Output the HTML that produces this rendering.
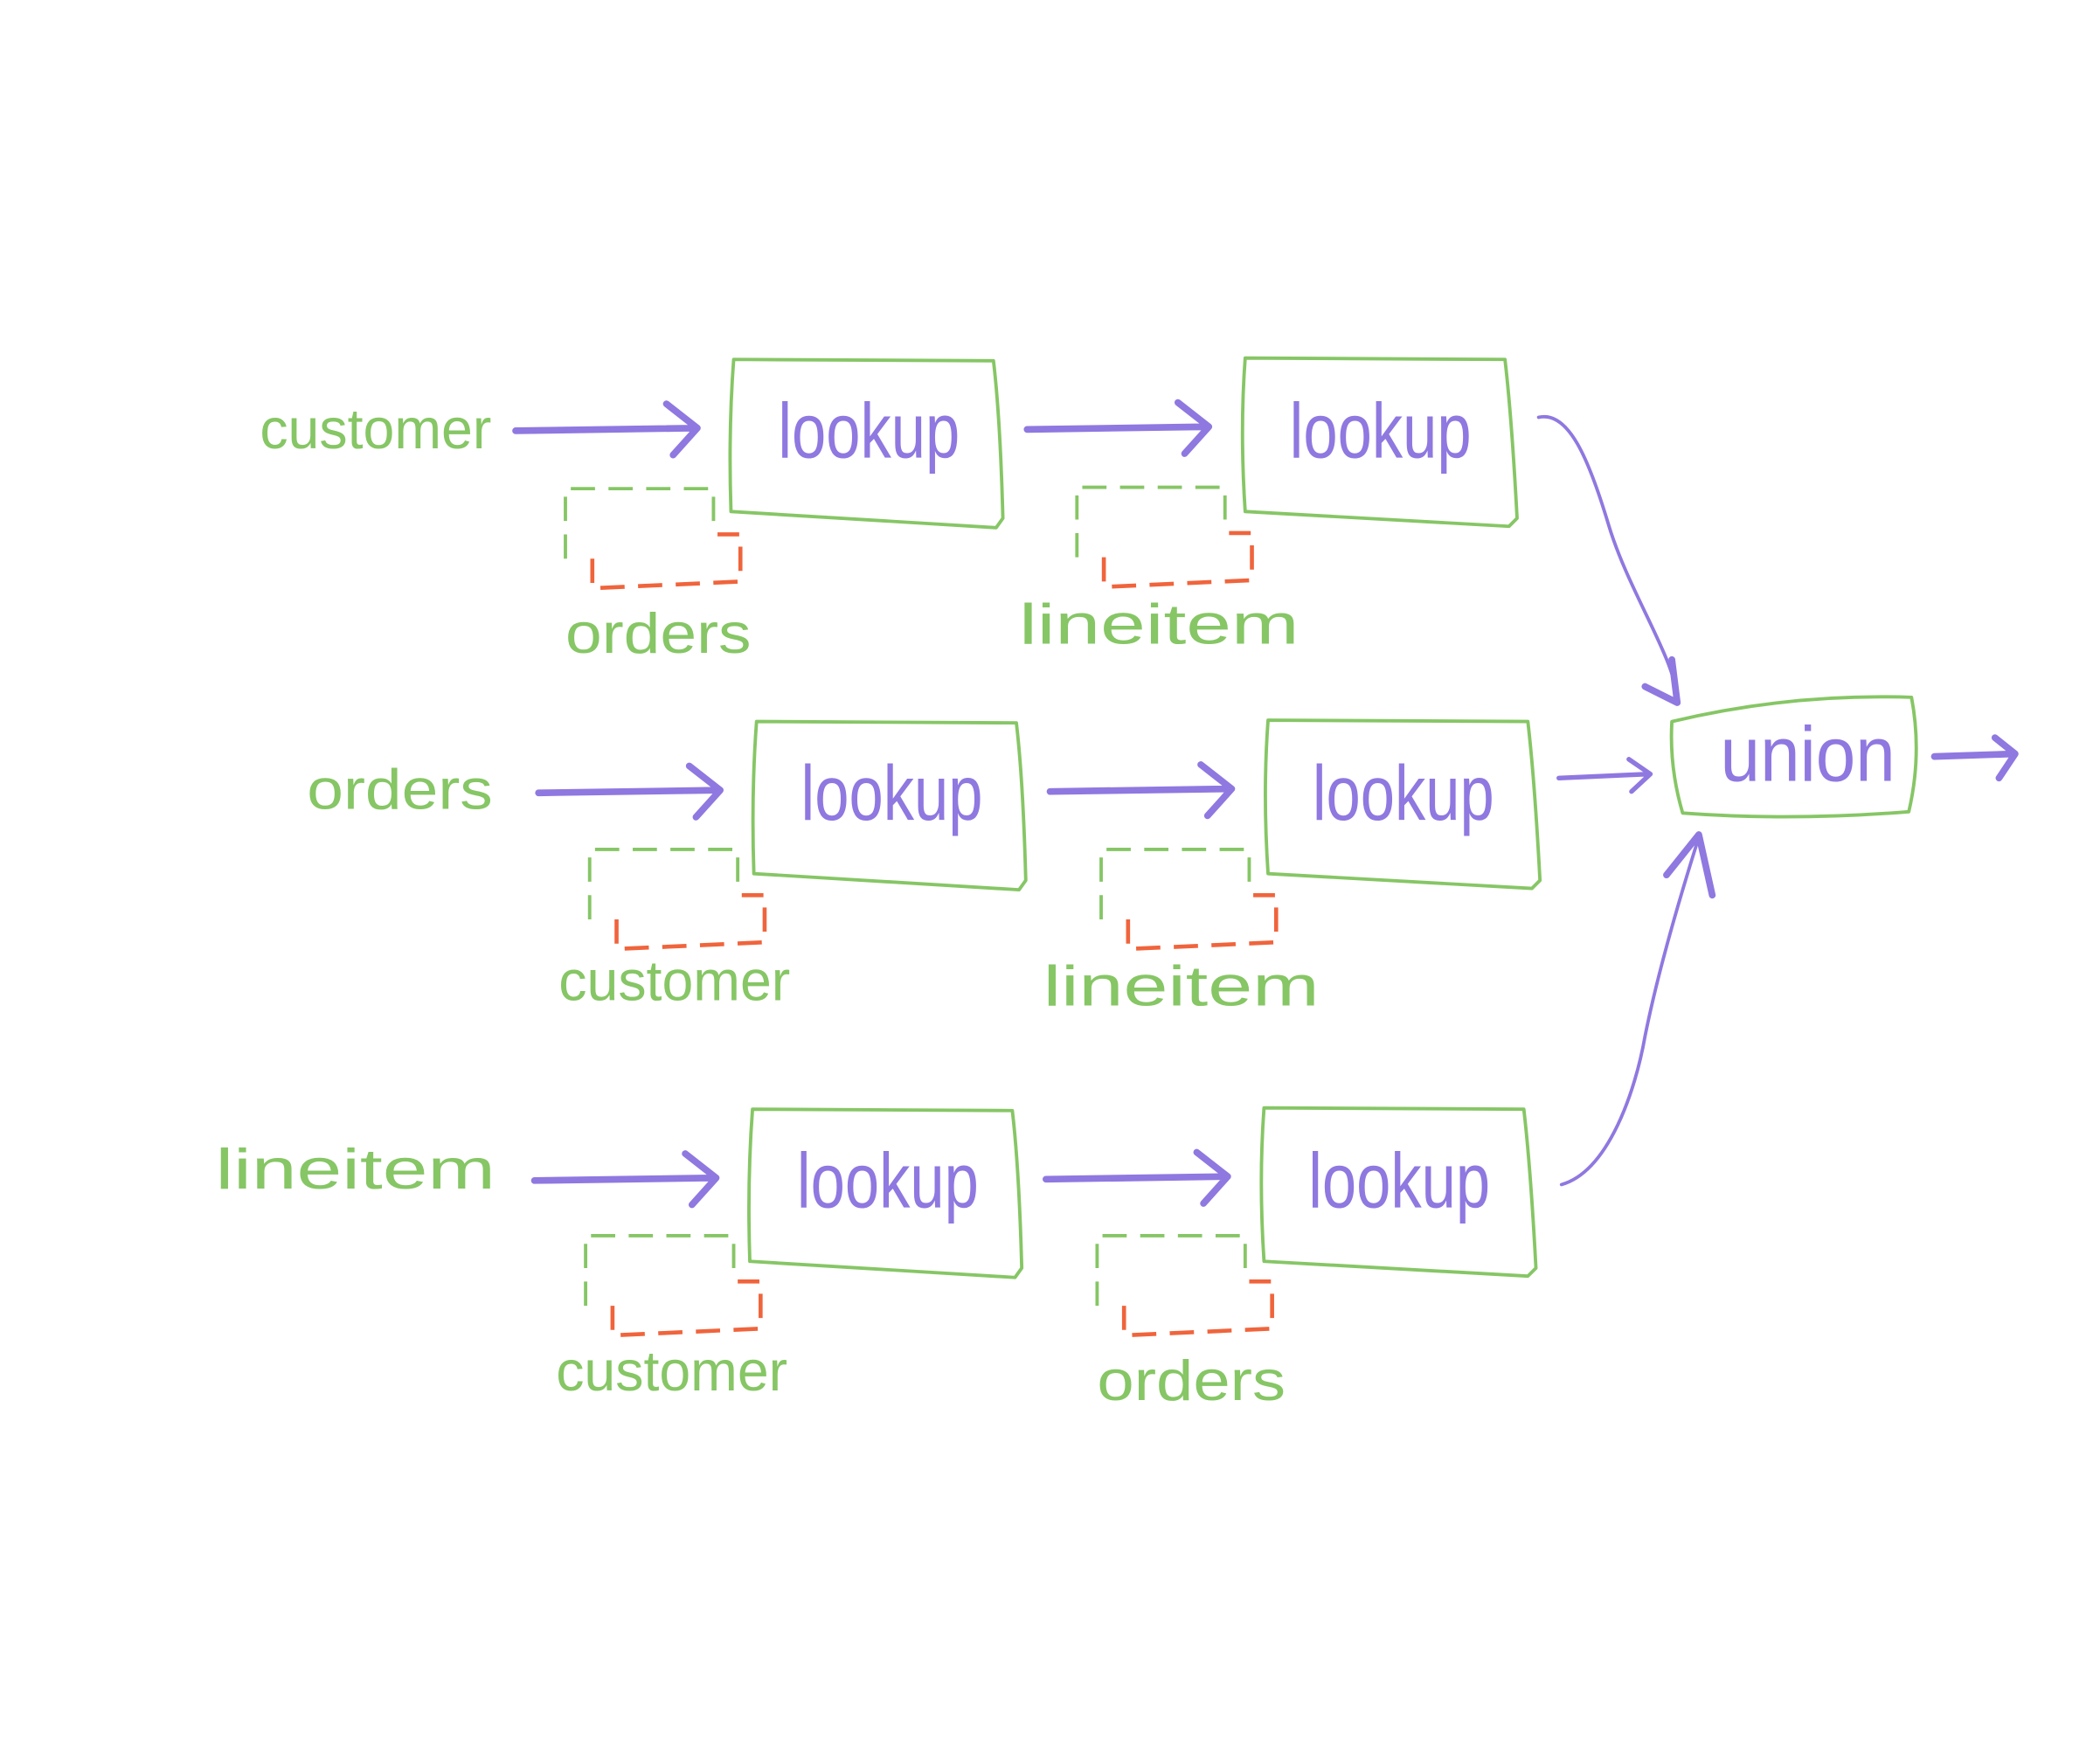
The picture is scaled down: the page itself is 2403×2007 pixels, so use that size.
<!DOCTYPE html>
<html><head><meta charset="utf-8"><style>
html,body{margin:0;padding:0;background:#fff;}
svg{display:block;}
text{font-family:"Liberation Sans",sans-serif;}
.g{fill:#86c665;font-size:42px;}
.p{fill:#8f78e0;font-size:58px;}
.box{fill:none;stroke:#86c665;stroke-width:2.5;stroke-linejoin:round;}
.arr{fill:none;stroke:#8f78e0;stroke-width:5;stroke-linecap:round;stroke-linejoin:round;}
.thin{fill:none;stroke:#8f78e0;stroke-width:2.5;stroke-linecap:round;stroke-linejoin:round;}
.mid{fill:none;stroke:#8f78e0;stroke-width:3.5;stroke-linecap:round;stroke-linejoin:round;}
.dg{fill:none;stroke:#86c665;stroke-width:2.5;stroke-dasharray:18 10;}
.dr{fill:none;stroke:#f0643c;stroke-width:3;stroke-dasharray:18 10;}
</style></head><body>
<svg width="2403" height="2007" viewBox="0 0 1560 1303" xmlns="http://www.w3.org/2000/svg">
<defs>
<g id="row">
  <path class="arr" d="M0,0 L135,-2 M112,-20 L135,-2 L117,18"/>
  <path class="box" d="M162,-53 L355,-52 Q360,-10 362,65 L357,72 L160,60 Q158,0 162,-53 Z"/>
  <text class="p" x="195" y="20" textLength="135" lengthAdjust="spacingAndGlyphs">lookup</text>
  <path class="arr" d="M380,-1 L515,-3 M492,-21 L515,-3 L497,17"/>
  <path class="box" d="M542,-54 L735,-53 Q740,-10 744,65 L738,71 L542,60 Q538,0 542,-54 Z"/>
  <text class="p" x="575" y="20" textLength="135" lengthAdjust="spacingAndGlyphs">lookup</text>
</g>
<g id="dash">
  <path class="dg" d="M0,52 L0,0 L110,0 L110,34"/>
  <path class="dr" d="M20,52 L20,74 L130,69 L130,34 L113,34"/>
</g>
</defs>

<g transform="translate(383,320)"><use href="#row"/></g>
<text class="g" x="193" y="333" textLength="172" lengthAdjust="spacingAndGlyphs">customer</text>
<g transform="translate(420,363)"><use href="#dash"/></g>
<g transform="translate(800,362)"><use href="#dash"/></g>
<text class="g" x="420" y="485" textLength="138" lengthAdjust="spacingAndGlyphs">orders</text>
<text class="g" x="757" y="478" textLength="208" lengthAdjust="spacingAndGlyphs">lineitem</text>

<g transform="translate(400,589)"><use href="#row"/></g>
<text class="g" x="228" y="601" textLength="138" lengthAdjust="spacingAndGlyphs">orders</text>
<g transform="translate(438,631)"><use href="#dash"/></g>
<g transform="translate(818,631)"><use href="#dash"/></g>
<text class="g" x="415" y="743" textLength="172" lengthAdjust="spacingAndGlyphs">customer</text>
<text class="g" x="775" y="747" textLength="205" lengthAdjust="spacingAndGlyphs">lineitem</text>

<g transform="translate(397,877)"><use href="#row"/></g>
<text class="g" x="160" y="883" textLength="208" lengthAdjust="spacingAndGlyphs">lineitem</text>
<g transform="translate(435,918)"><use href="#dash"/></g>
<g transform="translate(815,918)"><use href="#dash"/></g>
<text class="g" x="413" y="1033" textLength="172" lengthAdjust="spacingAndGlyphs">customer</text>
<text class="g" x="815" y="1040" textLength="140" lengthAdjust="spacingAndGlyphs">orders</text>

<path class="box" d="M1242,536 Q1330,515 1420,518 Q1428,560 1418,603 Q1330,610 1250,604 Q1240,570 1242,536 Z"/>
<text class="p" x="1278" y="580" textLength="130" lengthAdjust="spacingAndGlyphs">union</text>
<path class="arr" d="M1437,562 L1497,560 M1482,548 L1497,560 L1485,578"/>

<path class="thin" d="M1143,310 C1165,305 1180,340 1195,390 C1210,440 1245,490 1246,520"/>
<path class="arr" d="M1222,510 L1246,522 L1242,490"/>
<path class="mid" d="M1158,578 L1225,575 M1210,564 L1226,575 L1212,588"/>
<path class="thin" d="M1160,880 C1195,870 1215,810 1222,770 C1232,720 1250,660 1262,622"/>
<path class="arr" d="M1238,650 L1262,620 L1272,665"/>
</svg>
</body></html>
